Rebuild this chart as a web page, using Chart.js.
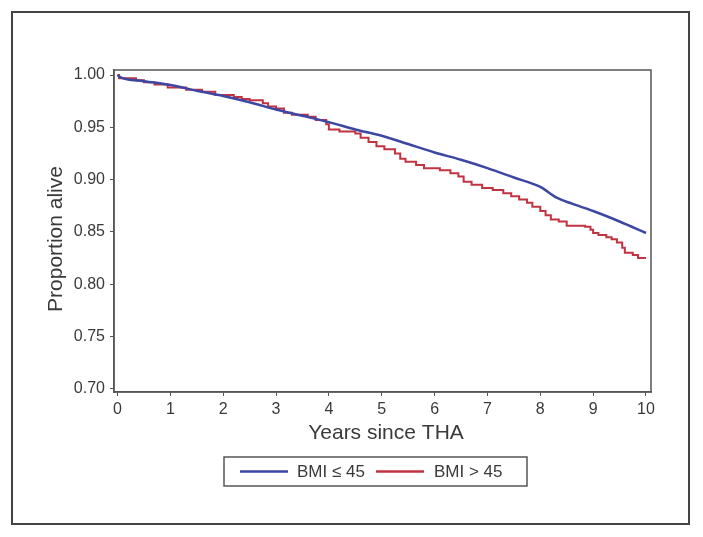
<!DOCTYPE html>
<html><head><meta charset="utf-8">
<script src="https://cdn.jsdelivr.net/npm/chart.js@4/dist/chart.umd.min.js"></script>
<style>html,body{margin:0;padding:0;background:#fff;}#wrap{width:703px;height:537px;position:relative;}</style>
</head><body><div id="wrap"><canvas id="c" width="703" height="537"></canvas></div>
<script>
const seriesNames = ['BMI \u2264 45', 'BMI > 45'];
const seriesColors = ['#3b47a3', '#c23341'];
const xTicks = [0,1,2,3,4,5,6,7,8,9,10];
const yTicks = [0.70,0.75,0.80,0.85,0.90,0.95,1.00];
const blueX = [0,0.05,0.5,1,1.5,2,2.5,3,3.5,4,4.5,5,5.5,6,6.5,7,7.5,8,8.3,8.6,9,9.5,10];
const blueY = [1.0,0.998,0.994,0.9905,0.985,0.980,0.974,0.967,0.961,0.955,0.948,0.942,0.934,0.926,0.919,0.911,0.902,0.893,0.883,0.877,0.870,0.860,0.849];
const redX = [0,0.03,0.35,0.5,0.7,0.95,1.3,1.6,1.85,2.2,2.35,2.5,2.75,2.85,3.0,3.15,3.3,3.6,3.75,3.95,4.0,4.2,4.5,4.6,4.75,4.9,5.05,5.25,5.35,5.45,5.65,5.8,6.1,6.3,6.45,6.55,6.7,6.9,7.1,7.3,7.45,7.6,7.75,7.85,8.0,8.1,8.2,8.35,8.5,8.85,8.95,9.0,9.1,9.25,9.35,9.45,9.55,9.6,9.75,9.85,10.0];
const redY = [1.0,0.997,0.995,0.993,0.991,0.988,0.986,0.984,0.981,0.979,0.977,0.976,0.973,0.970,0.968,0.964,0.962,0.960,0.957,0.953,0.948,0.946,0.944,0.940,0.936,0.932,0.929,0.925,0.920,0.917,0.914,0.911,0.909,0.906,0.903,0.898,0.895,0.892,0.890,0.887,0.884,0.881,0.878,0.874,0.870,0.866,0.862,0.860,0.856,0.855,0.852,0.849,0.847,0.845,0.843,0.840,0.835,0.830,0.828,0.825,0.825];
const xTitle = 'Years since THA';
const yTitle = 'Proportion alive';

const FONT = '"Liberation Sans", Arial, sans-serif';
const TXT = '#3a3a3a';

const decor = {
  id: 'decor',
  beforeDraw(chart) {
    const ctx = chart.ctx;
    ctx.save();
    ctx.fillStyle = '#fff';
    ctx.fillRect(0, 0, chart.width, chart.height);
    ctx.restore();
  },
  afterDraw(chart) {
    const ctx = chart.ctx;
    const a = chart.chartArea;
    ctx.save();
    ctx.strokeStyle = '#444';
    ctx.lineWidth = 2;
    ctx.strokeRect(12, 12, 677, 512);
    ctx.strokeStyle = '#555';
    ctx.lineWidth = 1.5;
    ctx.strokeRect(a.left, a.top, a.right - a.left, a.bottom - a.top);
    ctx.fillStyle = TXT;
    ctx.font = '21px ' + FONT;
    ctx.textAlign = 'center';
    ctx.textBaseline = 'middle';
    ctx.fillText(xTitle, 386, 433);
    ctx.save();
    ctx.translate(56, 239);
    ctx.rotate(-Math.PI / 2);
    ctx.fillText(yTitle, 0, 0);
    ctx.restore();
    ctx.strokeStyle = '#555';
    ctx.lineWidth = 1.5;
    ctx.strokeRect(224, 457, 303, 29);
    ctx.font = '17px ' + FONT;
    ctx.textAlign = 'left';
    const items = [[240, 288, 297], [376, 424, 434]];
    items.forEach((it, i) => {
      ctx.strokeStyle = seriesColors[i];
      ctx.lineWidth = 2.5;
      ctx.beginPath();
      ctx.moveTo(it[0], 471.5);
      ctx.lineTo(it[1], 471.5);
      ctx.stroke();
      ctx.fillStyle = TXT;
      ctx.fillText(seriesNames[i], it[2], 472);
    });
    ctx.restore();
  }
};

new Chart(document.getElementById('c'), {
  type: 'line',
  data: {
    datasets: [
      { label: seriesNames[0], data: blueX.map((x, i) => ({x, y: blueY[i]})), borderColor: seriesColors[0], borderWidth: 2.5, pointRadius: 0, cubicInterpolationMode: 'monotone', fill: false },
      { label: seriesNames[1], data: redX.map((x, i) => ({x, y: redY[i]})), borderColor: seriesColors[1], borderWidth: 2, pointRadius: 0, stepped: 'before', fill: false }
    ]
  },
  options: {
    responsive: false,
    animation: false,
    devicePixelRatio: 1,
    layout: { padding: { top: 70, right: 52, left: 0, bottom: 0 } },
    plugins: { legend: { display: false }, tooltip: { enabled: false } },
    scales: {
      x: {
        type: 'linear', min: -0.066, max: 10.095,
        afterBuildTicks: s => { s.ticks = xTicks.map(v => ({value: v})); },
        afterFit: s => { s.height = 145; },
        grid: { drawOnChartArea: false, drawTicks: true, tickLength: 4, color: '#555' },
        border: { display: true, color: '#555', width: 1.5 },
        ticks: { color: TXT, font: { family: FONT, size: 16 }, padding: 4, maxRotation: 0, callback: v => String(v) }
      },
      y: {
        type: 'linear', min: 0.697, max: 1.0048,
        afterBuildTicks: s => { s.ticks = yTicks.map(v => ({value: v})); },
        afterFit: s => { s.width = 114; },
        grid: { drawOnChartArea: false, drawTicks: true, tickLength: 4, color: '#555' },
        border: { display: true, color: '#555', width: 1.5 },
        ticks: { color: TXT, font: { family: FONT, size: 16 }, padding: 5, callback: v => Number(v).toFixed(2) }
      }
    }
  },
  plugins: [decor]
});
</script></body></html>
